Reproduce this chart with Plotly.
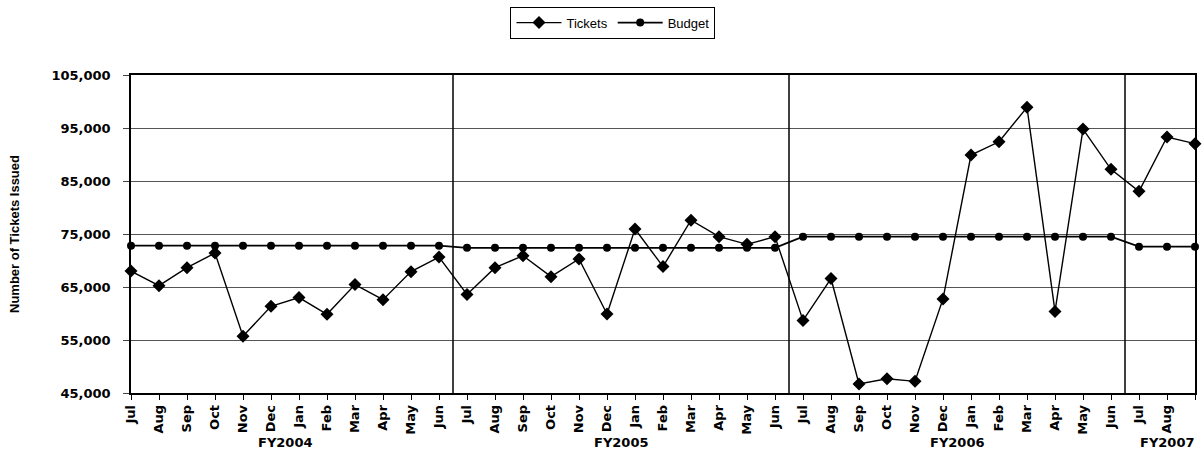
import plotly.graph_objects as go

months = ["Jul", "Aug", "Sep", "Oct", "Nov", "Dec", "Jan", "Feb", "Mar", "Apr", "May", "Jun"]
fiscal_years = ["FY2004", "FY2005", "FY2006", "FY2007"]
months_per_year = [12, 12, 12, 3]

tickets = [
    68000, 65250, 68650, 71400, 55700, 61350, 63000, 59850, 65450, 62600, 67900, 70650,
    63600, 68650, 70900, 66950, 70300, 59900, 75950, 68850, 77600, 74500, 73050, 74500,
    58700, 66600, 46700, 47700, 47200, 62750, 89900, 92400, 98900, 60400, 94800, 87200,
    83050, 93300, 92050,
]
budget = [
    72800, 72800, 72800, 72800, 72800, 72800, 72800, 72800, 72800, 72800, 72800, 72800,
    72400, 72400, 72400, 72400, 72400, 72400, 72400, 72400, 72400, 72400, 72400, 72400,
    74500, 74500, 74500, 74500, 74500, 74500, 74500, 74500, 74500, 74500, 74500, 74500,
    72600, 72600, 72600,
]
y_ticks = [45000, 55000, 65000, 75000, 85000, 95000, 105000]

month_labels = []
for n in months_per_year:
    month_labels += months[:n]
x = list(range(len(tickets)))

BOLD = "DejaVu Sans"
fig = go.Figure()
fig.add_trace(go.Scatter(
    x=x, y=tickets, name="Tickets", mode="lines+markers",
    line=dict(color="black", width=1.4),
    marker=dict(symbol="diamond", size=10, color="black"),
    cliponaxis=False,
))
fig.add_trace(go.Scatter(
    x=x, y=budget, name="Budget", mode="lines+markers",
    line=dict(color="black", width=1.8),
    marker=dict(symbol="circle", size=8, color="black"),
    cliponaxis=False,
))

# group separators and labels
shapes = []
annotations = []
start = 0
for i, (fy, n) in enumerate(zip(fiscal_years, months_per_year)):
    end = start + n
    if i < len(fiscal_years) - 1:
        shapes.append(dict(type="line", xref="x", yref="paper", x0=end - 0.5, x1=end - 0.5,
                           y0=0, y1=1, line=dict(color="black", width=1.5)))
    annotations.append(dict(x=(start + end - 1) / 2, y=-0.155, xref="x", yref="paper",
                            text=fy, showarrow=False, xanchor="center", yanchor="middle",
                            font=dict(family=BOLD, size=13, color="black", weight="bold")))
    start = end

fig.update_layout(
    width=1202, height=456,
    margin=dict(l=131, r=7, t=73, b=63),
    paper_bgcolor="white", plot_bgcolor="white",
    font=dict(family="Liberation Sans, Arial", color="black"),
    showlegend=True,
    legend=dict(orientation="h", x=0.453, y=1.215, xanchor="center", yanchor="top",
                bordercolor="black", borderwidth=1, font=dict(size=13, family="Liberation Sans, Arial"),
                itemwidth=45, tracegroupgap=0),
    shapes=shapes,
    annotations=annotations,
)
fig.update_xaxes(
    range=[0, len(tickets) - 1],
    tickmode="array", tickvals=x, ticktext=month_labels, tickangle=-90,
    ticks="outside", ticklen=5, tickcolor="black",
    showline=True, linecolor="black", linewidth=1.5, mirror=True,
    showgrid=False, zeroline=False,
    tickfont=dict(family=BOLD, size=13, color="black", weight="bold"),
    automargin=False,
)
fig.update_yaxes(
    range=[45000, 105000],
    tickmode="array", tickvals=y_ticks, tickformat=",d",
    ticks="outside", ticklen=6, tickcolor="#444",
    showline=True, linecolor="black", linewidth=1.5, mirror=True,
    showgrid=True, gridcolor="#555", gridwidth=1, zeroline=False,
    tickfont=dict(family=BOLD, size=13, color="black", weight="bold"),
    ticklabelstandoff=10,
    title=dict(text="Number of Tickets Issued", standoff=29,
               font=dict(family="Liberation Sans, Arial", size=13, color="black", weight="bold")),
    automargin=False,
)

fig.write_html("out.html", config={"displayModeBar": False},
               post_script="document.body.style.margin='0';document.body.style.overflow='hidden';")
